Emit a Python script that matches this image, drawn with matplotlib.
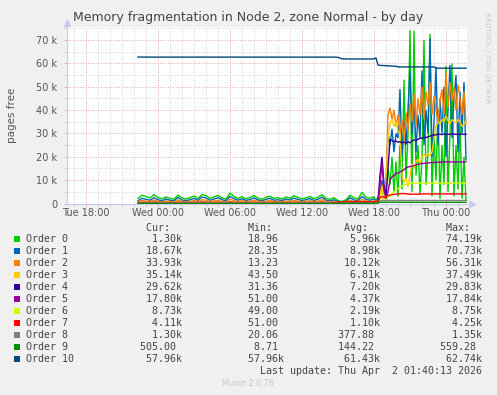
import numpy as np
import matplotlib
matplotlib.use('Agg')
import matplotlib.pyplot as plt
from matplotlib.ticker import MultipleLocator, FuncFormatter
from matplotlib.patches import Rectangle

# ---------------- data (hours after Tue 18:00, values in thousands) -------------
t_quiet_start, t_quiet_step, n_quiet = 4.3333, 1/3, 60
t_active_start, t_active_step, n_active = 24.1667, 1/6, 46

order0_q = [2.2, 3.5, 3.0, 2.4, 3.8, 2.6, 2.0, 2.8, 2.2, 1.8, 3.6, 2.4, 1.9, 2.5, 3.2, 2.1, 3.9, 3.4, 2.2, 2.8,
            3.5, 2.4, 1.9, 4.5, 3.0, 2.2, 2.9, 2.0, 2.6, 3.4, 2.3, 1.8, 2.7, 3.1, 2.2, 2.5, 1.9, 2.8, 2.3, 3.3,
            2.6, 2.0, 2.4, 3.0, 2.1, 2.7, 3.8, 2.2, 1.8, 2.5, 1.2, 0.9, 1.6, 3.6, 2.4, 2.0, 4.8, 2.6, 2.2, 3.0]
order1_q = [1.2, 2.2, 1.8, 1.4, 2.5, 1.6, 1.2, 1.9, 1.4, 1.1, 2.6, 1.5, 1.2, 1.6, 2.2, 1.3, 2.8, 2.4, 1.4, 1.9,
            2.5, 1.6, 1.2, 3.0, 2.1, 1.4, 2.0, 1.3, 1.7, 2.4, 1.5, 1.1, 1.8, 2.2, 1.4, 1.6, 1.2, 1.9, 1.5, 2.3,
            1.7, 1.3, 1.6, 2.1, 1.3, 1.8, 2.7, 1.4, 1.1, 1.6, 0.8, 0.6, 1.0, 2.5, 1.5, 1.3, 3.0, 1.7, 1.4, 2.0]
order2_q = [0.7, 1.3, 1.0, 0.8, 1.5, 0.9, 0.7, 1.1, 0.8, 0.6, 1.5, 0.9, 0.7, 0.9, 1.3, 0.8, 1.6, 1.4, 0.8, 1.1,
            1.4, 0.9, 0.7, 1.8, 1.2, 0.8, 1.2, 0.8, 1.0, 1.4, 0.9, 0.6, 1.0, 1.3, 0.8, 0.9, 0.7, 1.1, 0.9, 1.3,
            1.0, 0.8, 0.9, 1.2, 0.8, 1.0, 1.6, 0.8, 0.6, 0.9, 0.5, 0.4, 0.6, 1.4, 0.9, 0.8, 1.7, 1.0, 0.8, 1.2]
order3_q = [0.4, 0.6, 0.5, 0.4, 0.7, 0.5, 0.4, 0.5, 0.4, 0.3, 0.7, 0.5, 0.4, 0.5, 0.6, 0.4, 0.8, 0.7, 0.4, 0.5,
            0.7, 0.5, 0.4, 0.8, 0.6, 0.4, 0.6, 0.4, 0.5, 0.7, 0.5, 0.3, 0.5, 0.6, 0.4, 0.5, 0.4, 0.5, 0.4, 0.6,
            0.5, 0.4, 0.5, 0.6, 0.4, 0.5, 0.8, 0.4, 0.3, 0.5, 0.4, 0.4, 0.5, 0.7, 0.5, 0.4, 0.8, 0.5, 0.4, 0.6]
order4_q = [0.2, 0.3, 0.25, 0.2, 0.3, 0.25, 0.2, 0.25, 0.2, 0.15, 0.3, 0.2, 0.2, 0.25, 0.3, 0.2, 0.35, 0.3, 0.2, 0.25,
            0.3, 0.2, 0.2, 0.35, 0.25, 0.2, 0.25, 0.2, 0.25, 0.3, 0.2, 0.15, 0.25, 0.3, 0.2, 0.25, 0.2, 0.25, 0.2, 0.3,
            0.25, 0.2, 0.2, 0.3, 0.2, 0.25, 0.35, 0.2, 0.15, 0.25, 0.2, 0.2, 0.25, 0.3, 0.2, 0.2, 0.4, 0.25, 0.2, 0.3]
order5_q = [0.4, 0.5, 0.45, 0.4, 0.55, 0.45, 0.4, 0.45, 0.4, 0.35, 0.5, 0.45, 0.4, 0.45, 0.5, 0.4, 0.6, 0.5, 0.4, 0.45,
            0.5, 0.4, 0.4, 0.6, 0.45, 0.4, 0.45, 0.4, 0.45, 0.5, 0.4, 0.35, 0.45, 0.5, 0.4, 0.45, 0.4, 0.45, 0.4, 0.5,
            0.45, 0.4, 0.4, 0.5, 0.4, 0.45, 0.6, 0.4, 0.35, 0.45, 0.3, 0.3, 0.35, 0.5, 0.4, 0.4, 0.6, 0.45, 0.4, 0.5]
order6_q = [0.1, 0.12, 0.1, 0.08, 0.12, 0.1, 0.08, 0.1, 0.1, 0.06, 0.12, 0.1, 0.08, 0.1, 0.12, 0.08, 0.14, 0.12, 0.08, 0.1,
            0.12, 0.1, 0.08, 0.14, 0.1, 0.08, 0.1, 0.08, 0.1, 0.12, 0.08, 0.06, 0.1, 0.12, 0.08, 0.1, 0.08, 0.1, 0.08, 0.12,
            0.1, 0.08, 0.1, 0.12, 0.08, 0.1, 0.14, 0.08, 0.06, 0.1, 0.08, 0.08, 0.1, 0.12, 0.1, 0.08, 0.15, 0.1, 0.08, 0.12]
order7_q = [0.08, 0.1, 0.08, 0.07, 0.1, 0.08, 0.07, 0.08, 0.08, 0.06, 0.1, 0.08, 0.07, 0.08, 0.1, 0.07, 0.12, 0.1, 0.07, 0.08,
            0.1, 0.08, 0.07, 0.12, 0.08, 0.07, 0.08, 0.07, 0.08, 0.1, 0.07, 0.06, 0.08, 0.1, 0.07, 0.08, 0.07, 0.08, 0.07, 0.1,
            0.08, 0.07, 0.08, 0.1, 0.07, 0.08, 0.12, 0.07, 0.06, 0.2, 0.6, 0.7, 0.7, 0.75, 0.7, 0.7, 0.8, 0.7, 0.7, 0.75]
order8_q = [0.04, 0.05, 0.04, 0.03, 0.05, 0.04, 0.03, 0.04, 0.04, 0.03, 0.05, 0.04, 0.03, 0.04, 0.05, 0.03, 0.06, 0.05, 0.03, 0.04,
            0.05, 0.04, 0.03, 0.06, 0.04, 0.03, 0.04, 0.03, 0.04, 0.05, 0.03, 0.03, 0.04, 0.05, 0.03, 0.04, 0.03, 0.04, 0.03, 0.05,
            0.04, 0.03, 0.04, 0.05, 0.03, 0.04, 0.06, 0.03, 0.02, 0.04, 0.03, 0.03, 0.04, 0.05, 0.04, 0.03, 0.06, 0.04, 0.03, 0.05]
order9_q = [0.02, 0.02, 0.02, 0.01, 0.02, 0.02, 0.01, 0.02, 0.02, 0.01, 0.02, 0.02, 0.01, 0.02, 0.02, 0.01, 0.03, 0.02, 0.01, 0.02,
            0.02, 0.02, 0.01, 0.03, 0.02, 0.01, 0.02, 0.01, 0.02, 0.02, 0.01, 0.01, 0.02, 0.02, 0.01, 0.02, 0.01, 0.02, 0.01, 0.02,
            0.02, 0.01, 0.02, 0.02, 0.01, 0.02, 0.03, 0.01, 0.01, 0.02, 0.01, 0.01, 0.02, 0.02, 0.02, 0.01, 0.03, 0.02, 0.01, 0.02]
order10_q = [62.74, 62.72, 62.72, 62.7, 62.7, 62.7, 62.72, 62.7, 62.7, 62.7, 62.72, 62.7, 62.7, 62.7, 62.7, 62.7, 62.72, 62.7, 62.7, 62.7,
             62.7, 62.7, 62.7, 62.72, 62.7, 62.7, 62.7, 62.7, 62.7, 62.7, 62.7, 62.7, 62.7, 62.7, 62.7, 62.7, 62.7, 62.7, 62.7, 62.7,
             62.7, 62.7, 62.7, 62.7, 62.7, 62.7, 62.7, 62.7, 62.7, 62.7, 62.6, 61.95, 61.9, 61.9, 61.9, 61.9, 61.9, 61.9, 61.9, 61.95]

order0_a = [1.0, 3.0, 4.0, 6.0, 2.0, 5.0, 15.0, 8.0, 20.0, 5.0, 18.0, 3.0, 25.0, 6.0, 53.0, 10.0, 30.0, 74.19, 5.0, 74.0,
            12.0, 25.0, 4.0, 20.0, 70.0, 8.0, 22.0, 72.7, 3.0, 30.0, 10.0, 40.0, 2.0, 25.0, 8.0, 59.0, 5.0, 30.0, 60.0, 3.0,
            25.0, 6.0, 35.0, 2.0, 20.0, 1.3]
order1_a = [1.0, 2.0, 5.0, 10.0, 3.0, 8.0, 30.0, 25.0, 32.0, 22.0, 30.0, 28.0, 49.0, 20.0, 35.0, 25.0, 40.0, 57.0, 30.0, 45.0,
            22.0, 38.0, 28.0, 57.0, 25.0, 40.0, 30.0, 70.73, 20.0, 35.0, 58.6, 25.0, 45.0, 30.0, 50.0, 20.0, 40.0, 59.3, 28.0, 45.0,
            55.0, 22.0, 48.0, 30.0, 52.0, 18.67]
order2_a = [0.8, 1.5, 4.0, 8.0, 3.0, 6.0, 38.0, 41.0, 36.0, 40.0, 33.0, 38.0, 30.0, 36.0, 27.0, 39.0, 31.0, 43.0, 35.0, 47.0,
            33.0, 45.0, 38.0, 50.0, 36.0, 48.0, 42.0, 52.0, 38.0, 46.0, 40.0, 35.0, 44.0, 49.0, 38.0, 56.31, 41.0, 52.0, 44.0, 50.0,
            40.0, 51.0, 45.0, 38.0, 48.0, 33.93]
order3_a = [0.5, 1.0, 3.0, 7.0, 2.0, 5.0, 28.0, 34.0, 36.0, 33.0, 35.0, 31.0, 30.0, 12.0, 9.0, 11.0, 7.0, 12.0, 17.0, 15.0,
            18.0, 19.0, 17.0, 20.0, 21.0, 20.0, 21.5, 20.5, 22.0, 28.0, 33.0, 35.0, 34.0, 36.0, 35.0, 37.49, 35.5, 34.0, 36.0, 35.0,
            34.5, 36.0, 35.0, 33.0, 34.0, 35.14]
order4_a = [0.3, 1.0, 12.0, 20.0, 8.0, 3.0, 15.0, 27.4, 27.0, 26.5, 26.8, 26.2, 26.5, 25.9, 26.3, 25.8, 26.5, 26.0, 26.8, 27.2,
            27.0, 27.5, 27.9, 28.0, 28.2, 28.3, 28.5, 28.9, 29.1, 29.3, 29.5, 29.6, 29.7, 29.5, 29.8, 29.6, 29.7, 29.6, 29.83, 29.7,
            29.6, 29.7, 29.6, 29.7, 29.6, 29.62]
order5_a = [0.4, 1.0, 8.0, 17.5, 6.0, 2.0, 5.0, 10.0, 11.4, 12.0, 12.9, 13.0, 13.5, 14.0, 14.5, 15.2, 15.7, 15.8, 16.0, 16.3,
            16.5, 16.8, 17.0, 17.1, 17.2, 17.3, 17.4, 17.5, 17.5, 17.6, 17.6, 17.7, 17.7, 17.8, 17.8, 17.84, 17.8, 17.8, 17.8, 17.8,
            17.8, 17.8, 17.8, 17.8, 17.8, 17.8]
order6_a = [0.1, 0.5, 2.0, 3.0, 1.5, 1.0, 2.5, 3.6, 4.2, 5.0, 5.8, 6.5, 7.0, 7.5, 7.9, 8.2, 8.5, 8.7, 8.75, 8.73,
            8.74, 8.73, 8.75, 8.73, 8.74, 8.73, 8.73, 8.74, 8.73, 8.73, 8.74, 8.73, 8.73, 8.74, 8.73, 8.73, 8.74, 8.73, 8.73, 8.74,
            8.73, 8.73, 8.74, 8.73, 8.73, 8.73]
order7_a = [0.7, 0.8, 2.5, 3.0, 2.6, 2.8, 3.4, 3.6, 3.8, 3.9, 4.0, 4.1, 4.2, 4.25, 4.2, 4.2, 4.0, 4.0, 4.0, 4.0,
            4.0, 4.0, 4.0, 4.1, 4.1, 4.1, 4.1, 4.1, 4.1, 4.1, 4.1, 4.1, 4.1, 4.1, 4.1, 4.1, 4.1, 4.1, 4.1, 4.1,
            4.1, 4.1, 4.1, 4.1, 4.1, 4.11]
order8_a = [0.1, 0.5, 1.0, 1.3, 1.3, 1.3, 1.3, 1.32, 1.3, 1.3, 1.3, 1.3, 1.35, 1.3, 1.3, 1.3, 1.3, 1.3, 1.3, 1.3,
            1.3, 1.3, 1.3, 1.3, 1.3, 1.3, 1.3, 1.3, 1.3, 1.3, 1.3, 1.3, 1.3, 1.3, 1.3, 1.3, 1.3, 1.3, 1.3, 1.3,
            1.3, 1.3, 1.3, 1.3, 1.3, 1.3]
order9_a = [0.05, 0.2, 0.5, 0.52, 0.53, 0.52, 0.54, 0.55, 0.559, 0.55, 0.54, 0.53, 0.52, 0.52, 0.51, 0.51, 0.51, 0.51, 0.51, 0.51,
            0.51, 0.51, 0.51, 0.505, 0.505, 0.505, 0.505, 0.505, 0.505, 0.505, 0.505, 0.505, 0.505, 0.505, 0.505, 0.505, 0.505, 0.505, 0.505, 0.505,
            0.505, 0.505, 0.505, 0.505, 0.505, 0.505]
order10_a = [62.4, 59.3, 59.2, 59.1, 59.1, 59.0, 59.0, 58.9, 58.9, 58.8, 58.8, 58.5, 58.5, 58.5, 58.5, 58.5, 58.5, 58.5, 58.5, 58.5,
             58.5, 58.5, 58.5, 58.5, 58.5, 58.5, 58.5, 58.5, 58.5, 58.5, 57.96, 57.96, 57.96, 57.96, 57.96, 57.96, 57.96, 57.96, 57.96, 57.96,
             57.96, 57.96, 57.96, 57.96, 57.96, 57.96]

labels = ['Order 0', 'Order 1', 'Order 2', 'Order 3', 'Order 4', 'Order 5',
          'Order 6', 'Order 7', 'Order 8', 'Order 9', 'Order 10']
colors = ['#00cc00', '#0066b3', '#ff8000', '#ffcc00', '#330099', '#990099',
          '#ccff00', '#ff0000', '#808080', '#008f00', '#00487d']
cur_s = ['1.30k', '18.67k', '33.93k', '35.14k', '29.62k', '17.80k', '8.73k', '4.11k', '1.30k', '505.00 ', '57.96k']
min_s = ['18.96 ', '28.35 ', '13.23 ', '43.50 ', '31.36 ', '51.00 ', '49.00 ', '51.00 ', '20.06 ', '8.71 ', '57.96k']
avg_s = ['5.96k', '8.98k', '10.12k', '6.81k', '7.20k', '4.37k', '2.19k', '1.10k', '377.88 ', '144.22 ', '61.43k']
max_s = ['74.19k', '70.73k', '56.31k', '37.49k', '29.83k', '17.84k', '8.75k', '4.25k', '1.35k', '559.28 ', '62.74k']
x_tick_hours = [0, 6, 12, 18, 24, 30]
x_tick_labels = ['Tue 18:00', 'Wed 00:00', 'Wed 06:00', 'Wed 12:00', 'Wed 18:00', 'Thu 00:00']

quiet = [order0_q, order1_q, order2_q, order3_q, order4_q, order5_q, order6_q, order7_q, order8_q, order9_q, order10_q]
active = [order0_a, order1_a, order2_a, order3_a, order4_a, order5_a, order6_a, order7_a, order8_a, order9_a, order10_a]

# ---------------- figure ----------------
W, H = 497, 395
BG = '#f0f0f0'
fig = plt.figure(figsize=(W / 100, H / 100), dpi=100, facecolor=BG)
ax = fig.add_axes([67 / W, 1 - 203.5 / H, 400 / W, 176.5 / H])
ax.set_facecolor('white')

t_q = t_quiet_start + t_quiet_step * np.arange(n_quiet)
t_a = t_active_start + t_active_step * np.arange(n_active)
t_all = np.concatenate([t_q, t_a])
for q, a, c in zip(quiet, active, colors):
    v = np.concatenate([q, a]) * 1000.0
    ax.plot(t_all, v, color=c, lw=1.0, solid_joinstyle='miter', zorder=3)

ax.set_xlim(-19 / 12, 31.75)
ax.set_ylim(0, 75600)

ax.xaxis.set_major_locator(MultipleLocator(6))
ax.xaxis.set_minor_locator(MultipleLocator(1))
ax.yaxis.set_major_locator(MultipleLocator(10000))
ax.yaxis.set_minor_locator(MultipleLocator(5000))
ax.grid(which='minor', color='#d2d2d2', lw=0.7, ls=(0, (1.05, 1.6)), zorder=1)
ax.grid(which='major', color='#eaaaaa', lw=0.7, ls=(0, (1.05, 1.6)), zorder=1)
ax.set_xticks(x_tick_hours)
ax.set_xticklabels(x_tick_labels)
ax.yaxis.set_major_formatter(FuncFormatter(lambda v, p: '0' if v == 0 else f'{int(v / 1000)} k'))
ax.tick_params(which='major', length=2, width=0.6, color='#e6a0a0', labelsize=7, labelcolor='#555555', pad=3)
ax.tick_params(which='minor', length=2, width=0.6, color='#c8c8c8')
ax.tick_params(axis='x', which='major', pad=1.5)
ax.tick_params(axis='y', which='major', pad=5)

for s in ['top', 'right']:
    ax.spines[s].set_visible(False)
for s in ['left', 'bottom']:
    ax.spines[s].set_color('#c8c8f0')
    ax.spines[s].set_linewidth(0.8)
ax.plot([0], [1.02], marker='^', ms=4, color='#c8c8f0', transform=ax.transAxes, clip_on=False)
ax.plot([1.012], [0], marker='>', ms=4, color='#c8c8f0', transform=ax.transAxes, clip_on=False)

ax.set_ylabel('pages free', fontsize=7.5, color='#555555')
ax.yaxis.set_label_coords(-50 / 400, 0.5)

fig.text(248 / W, 1 - 18 / H, 'Memory fragmentation in Node 2, zone Normal - by day',
         ha='center', va='center', fontsize=9.0, color='#444444')
fig.text(487 / W, 1 - 58 / H, 'RRDTOOL / TOBI OETIKER', rotation=270, ha='center', va='center',
         fontsize=5.1, color='#c8c8c8')

# ---------------- legend (monospace columns) ----------------
mono = 'DejaVu Sans Mono'
fs_leg = 7.2
x0 = 26 / W

def row_string(label, cur, mn, av, mx):
    cells = [' '] * 77
    for i, ch in enumerate(label):
        cells[i] = ch
    for s, end in ((cur, 25), (mn, 42), (av, 58), (mx, 75)):
        start = end - len(s) + 1
        for i, ch in enumerate(s):
            cells[start + i] = ch
    return ''.join(cells).rstrip()

header = [' '] * 77
for s, st in (('Cur:', 20), ('Min:', 37), ('Avg:', 53), ('Max:', 70)):
    for i, ch in enumerate(s):
        header[st + i] = ch
fig.text(x0, 1 - 227.7 / H, ''.join(header).rstrip(), family=mono, fontsize=fs_leg,
         color='#444444', va='center', ha='left')

for k in range(len(labels)):
    ypx = 239.3 + 12 * k
    fig.text(x0, 1 - ypx / H, row_string(labels[k], cur_s[k], min_s[k], avg_s[k], max_s[k]),
             family=mono, fontsize=fs_leg, color='#444444', va='center', ha='left')
    fig.patches.append(Rectangle((14 / W, 1 - (ypx + 3) / H), 6 / W, 6 / H,
                                 transform=fig.transFigure, facecolor=colors[k], edgecolor='none'))

last = [' '] * 39 + list('Last update: Thu Apr  2 01:40:13 2026')
fig.text(x0, 1 - 371 / H, ''.join(last), family=mono, fontsize=fs_leg, color='#444444',
         va='center', ha='left')
fig.text(248 / W, 1 - 384 / H, 'Munin 2.0.76', ha='center', va='center', fontsize=5.8, color='#c8c8c8')

fig.savefig('out.png', dpi=100, facecolor=BG)
